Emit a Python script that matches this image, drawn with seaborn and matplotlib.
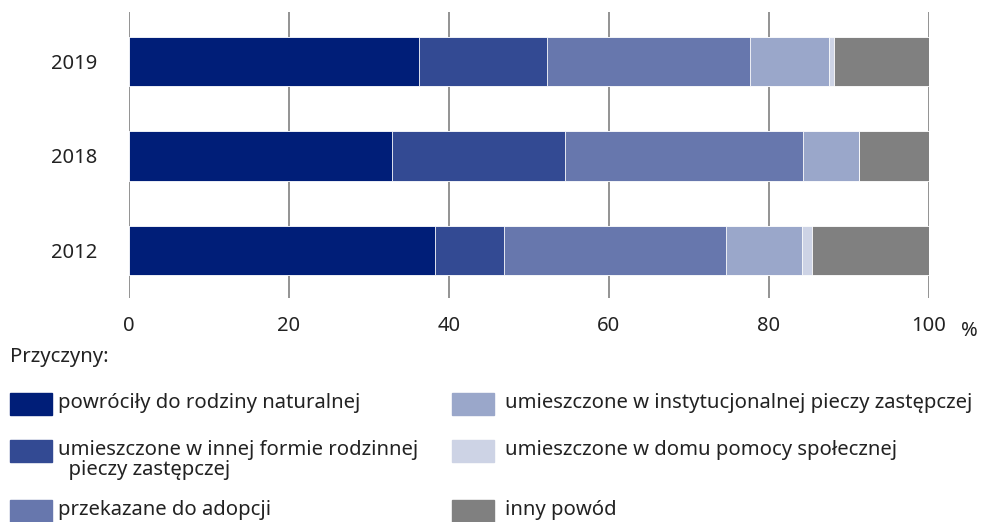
import numpy as np
import pandas as pd
import matplotlib.pyplot as plt
import seaborn as sns
from matplotlib.patches import Rectangle

years = ['2019', '2018', '2012']
categories = ['powróciły do rodziny naturalnej',
              'umieszczone w innej formie rodzinnej\n  pieczy zastępczej',
              'przekazane do adopcji',
              'umieszczone w instytucjonalnej pieczy zastępczej',
              'umieszczone w domu pomocy społecznej',
              'inny powód']
powrocily = [36.2, 32.9, 38.3]
rodzinna = [16.1, 21.6, 8.6]
adopcja = [25.3, 29.8, 27.7]
instytucja = [9.9, 7.0, 9.5]
dps = [0.6, 0.0, 1.3]
inny = [11.9, 8.7, 14.6]
colors = ['#001e78', '#334a93', '#6777ad', '#9aa7ca', '#cdd3e5', '#808080']

series = [powrocily, rodzinna, adopcja, instytucja, dps, inny]
cum = np.cumsum(np.array(series), axis=0)

sns.set_style('white')
plt.rcParams['font.family'] = ['Noto Sans', 'DejaVu Sans']
txt = '#222222'

fig = plt.figure(figsize=(9.81, 5.22), dpi=100)
ax = fig.add_axes([129 / 981, 1 - 298 / 522, 800 / 981, 286 / 522])

# stacked bars: draw cumulative totals from the back to the front
for i in range(len(series) - 1, -1, -1):
    df = pd.DataFrame({'rok': years, 'val': cum[i]})
    sns.barplot(data=df, x='val', y='rok', order=years, color=colors[i],
                orient='h', width=0.52, saturation=1, ax=ax,
                edgecolor='white', linewidth=0.6)

ax.set_xlim(0, 100)
ax.set_ylim(2.5, -0.52)
ax.set_xticks([0, 20, 40, 60, 80, 100])
ax.set_axisbelow(True)
ax.grid(axis='x', color='#808080', linewidth=1.2)
ax.grid(axis='y', visible=False)
for s in ax.spines.values():
    s.set_visible(False)
ax.set_xlabel('')
ax.set_ylabel('')
ax.tick_params(axis='both', length=0, labelsize=14.5, colors=txt)
ax.tick_params(axis='x', pad=13)
ax.tick_params(axis='y', pad=23)
fig.text(969 / 981, 1 - 331 / 522, '%', fontsize=14.5, ha='center', va='center', color=txt)

# legend
fig.text(10 / 981, 1 - 357 / 522, 'Przyczyny:', fontsize=14.6, va='center', color=txt)
rows = [404, 451, 511]
cols = [(10, 58), (452, 505)]
for k, lab in enumerate(categories):
    c, r = divmod(k, 3)
    px, tx = cols[c]
    py = rows[r]
    fig.patches.append(Rectangle((px / 981, 1 - (py + 11) / 522), 42 / 981, 22 / 522,
                                 transform=fig.transFigure, color=colors[k]))
    fig.text(tx / 981, 1 - (py - 11) / 522, lab, fontsize=14.6, va='top',
             linespacing=0.97, color=txt)

fig.savefig('out.png', dpi=100)
